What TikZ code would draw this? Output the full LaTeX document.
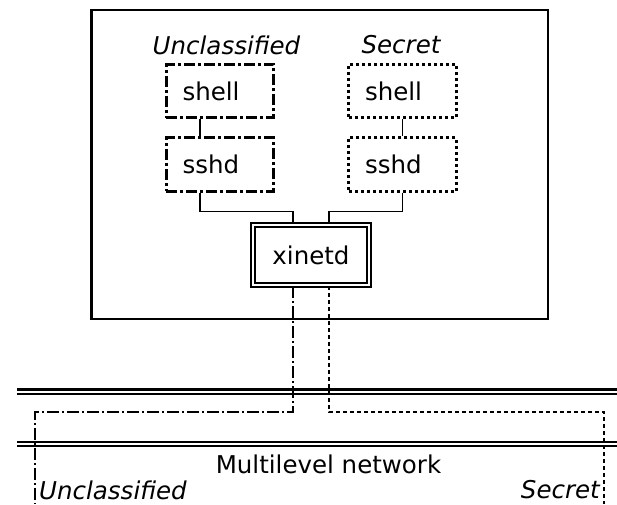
\documentclass[tikz,border=0pt]{standalone}
\usepackage{fontspec}
\setmainfont{DejaVu Sans}
\usetikzlibrary{calc}

\begin{document}
\begin{tikzpicture} [x=1pt, y=-1pt,
  every node/.style={font=\fontsize{24.5}{28}\selectfont},
  procbox/.style={draw, line width=2.6pt, minimum width=107.5pt, minimum height=53.5pt, text width=75pt, inner xsep=16pt, inner ysep=0pt, align=left},
  unclbox/.style={procbox, dash pattern=on 11pt off 3pt on 3pt off 3pt},
  secrbox/.style={procbox, dash pattern=on 3pt off 3pt},
  wire/.style={line width=1.7pt},
  uncline/.style={line width=1.7pt, dash pattern=on 12pt off 3pt on 2pt off 3pt},
  secline/.style={line width=1.7pt, dash pattern=on 4pt off 3pt},
  band/.style={line width=2.3pt, double, double distance=2pt}]
\def\tapoff{18pt};
\def\subshift{20pt};
\def\drop{19};
\useasboundingbox (0,0) rectangle (617,504);
% host
\draw [black, line width=2.6pt] (91.5,10) rectangle (548,319);
\node (lblU) at (226.5,45) {\itshape Unclassified};
\node (lblS) at (401,45) {\itshape Secret};
\node [unclbox] (shellU) at (220,91) {shell};
\node [unclbox] (sshdU) at (220,164.5) {sshd};
\node [secrbox] (shellS) at (402.5,91) {shell};
\node [secrbox] (sshdS) at (402.5,164.5) {sshd};
\node [draw, line width=2pt, double, double distance=2pt, minimum width=116pt, minimum height=60pt] (xinetd) at (311,255) {xinetd};
\draw [wire] ([xshift=-\subshift]shellU.south) -- ([xshift=-\subshift]sshdU.north);
\draw [wire] (shellS.south) -- (sshdS.north);
\draw [wire] ([xshift=-\subshift]sshdU.south) -- ++(0,\drop) -| ([xshift=-\tapoff]xinetd.north);
\draw [wire] (sshdS.south) -- ++(0,\drop) -| ([xshift=\tapoff]xinetd.north);
% network
\coordinate (netAw) at (17,391.5);
\coordinate (netAe) at (617,391.5);
\coordinate (netBw) at (17,444);
\coordinate (netBe) at (617,444);
\draw [band] (netAw) -- (netAe);
\draw [band] (netBw) -- (netBe);
\node (net) at (328.5,464) {Multilevel network};
\coordinate (uBend) at (35,412);
\coordinate (uEnd) at (35,504);
\coordinate (sBend) at (604,412);
\coordinate (sEnd) at (604,504);
\draw [uncline] ([xshift=-\tapoff]xinetd.south) |- (uBend) -- (uEnd);
\draw [secline] ([xshift=\tapoff]xinetd.south) |- (sBend) -- (sEnd);
\node [anchor=west, inner sep=0pt] (botU) at (39,490) {\itshape Unclassified};
\node [anchor=east, inner sep=0pt] (botS) at (600,490) {\itshape Secret};
\end{tikzpicture}
\end{document}
